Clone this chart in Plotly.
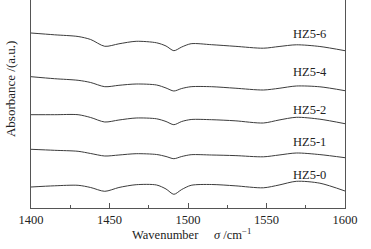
import plotly.graph_objects as go

wavenumber = [1400, 1415, 1430, 1438, 1447, 1456, 1467, 1480, 1486, 1491,
              1496, 1502, 1515, 1530, 1548, 1558, 1569, 1584, 1600]

hz5_6 = [1.750, 1.732, 1.715, 1.685, 1.617, 1.642, 1.667, 1.652, 1.620, 1.573,
         1.610, 1.643, 1.633, 1.617, 1.598, 1.615, 1.632, 1.615, 1.573]
hz5_4 = [1.313, 1.293, 1.277, 1.255, 1.213, 1.227, 1.240, 1.230, 1.200, 1.170,
         1.195, 1.213, 1.213, 1.198, 1.180, 1.197, 1.220, 1.212, 1.173]
hz5_2 = [0.933, 0.933, 0.933, 0.905, 0.860, 0.880, 0.900, 0.892, 0.865, 0.833,
         0.865, 0.885, 0.883, 0.872, 0.850, 0.880, 0.907, 0.888, 0.843]
hz5_1 = [0.587, 0.577, 0.567, 0.545, 0.520, 0.530, 0.543, 0.535, 0.515, 0.493,
         0.515, 0.533, 0.530, 0.524, 0.512, 0.530, 0.550, 0.534, 0.503]
hz5_0 = [0.210, 0.222, 0.227, 0.205, 0.167, 0.205, 0.233, 0.230, 0.190, 0.137,
         0.185, 0.227, 0.235, 0.222, 0.202, 0.230, 0.267, 0.248, 0.170]

series_names = ["HZ5-6", "HZ5-4", "HZ5-2", "HZ5-1", "HZ5-0"]
series_values = [hz5_6, hz5_4, hz5_2, hz5_1, hz5_0]
label_x = [1577.6] * 5
label_y = [1.737, 1.363, 0.980, 0.663, 0.330]

tick_vals = [1400, 1450, 1500, 1550, 1600]
tick_text = ["1400", "1450", "1500", "1550", "1600"]

FONT = "Liberation Serif, Times New Roman, serif"

fig = go.Figure()
for name, vals in zip(series_names, series_values):
    fig.add_trace(go.Scatter(
        x=wavenumber, y=vals, mode="lines", name=name,
        line=dict(color="#3c3c3c", width=1, shape="spline", smoothing=0.8),
        showlegend=False, hoverinfo="skip"))

for name, lx, ly in zip(series_names, label_x, label_y):
    fig.add_annotation(x=lx, y=ly, text=name, showarrow=False,
                       font=dict(family=FONT, size=12.5, color="#222"),
                       xanchor="center", yanchor="middle")

fig.add_annotation(xref="paper", yref="paper", x=0, y=0.572, xshift=-21,
                   text="Absorbance /(a.u.)", textangle=-90, showarrow=False,
                   font=dict(family=FONT, size=13, color="#222"),
                   xanchor="center", yanchor="middle")
fig.add_annotation(xref="paper", yref="paper", x=0.51, y=0, yshift=-26,
                   text="Wavenumber &nbsp;&nbsp;&nbsp; <i>σ</i> /cm<sup>−1</sup>",
                   showarrow=False,
                   font=dict(family=FONT, size=12.5, color="#222"),
                   xanchor="center", yanchor="middle")

fig.update_layout(
    width=371, height=249,
    margin=dict(l=31, r=26, t=0, b=41),
    paper_bgcolor="white", plot_bgcolor="white",
    hovermode=False,
    xaxis=dict(range=[1400, 1600], tickvals=tick_vals, ticktext=tick_text,
               ticks="inside", ticklen=5, tickwidth=1, tickcolor="#555",
               minor=dict(ticks="inside", ticklen=3, dtick=25, tick0=1400,
                          tickcolor="#555", showgrid=False),
               showline=True, linecolor="#555", linewidth=1, mirror=False,
               showgrid=False, zeroline=False,
               tickfont=dict(family=FONT, size=12.5, color="#222")),
    yaxis=dict(range=[0, 2.08], showticklabels=False, ticks="",
               showline=True, linecolor="#555", linewidth=1, mirror=True,
               showgrid=False, zeroline=False),
)

fig.write_html("out.html",
               config={"displayModeBar": False, "staticPlot": True},
               post_script="document.body.style.margin='0';"
                           "document.body.style.overflow='hidden';")
